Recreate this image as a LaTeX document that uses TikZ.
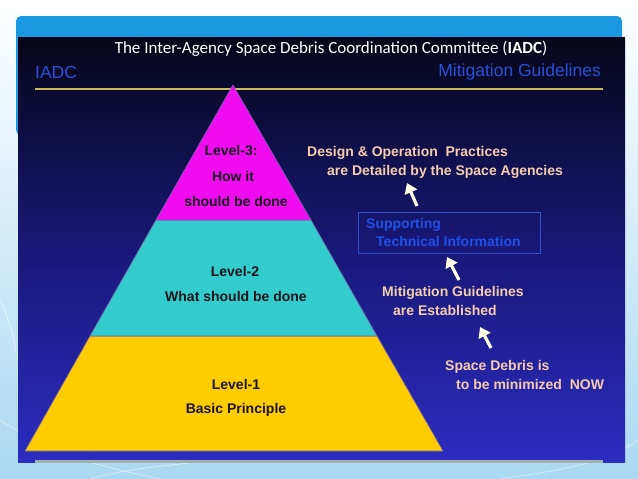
\documentclass[tikz,border=0pt]{standalone}
\usepackage{fontspec}
\setmainfont{Liberation Sans}
\newfontfamily\calfont{Carlito}
\usetikzlibrary{arrows.meta}
\definecolor{skybar}{RGB}{26,152,224}
\definecolor{pagelight}{RGB}{170,216,242}
\definecolor{darktop}{RGB}{6,6,24}
\definecolor{darkmid}{RGB}{24,24,120}
\definecolor{darkbot}{RGB}{44,44,192}
\definecolor{goldline}{RGB}{200,184,96}
\definecolor{grayline}{RGB}{160,176,176}
\definecolor{lvmag}{RGB}{240,12,240}
\definecolor{lvcyan}{RGB}{51,204,204}
\definecolor{lvyellow}{RGB}{255,204,0}
\definecolor{peach}{RGB}{245,205,172}
\definecolor{headblue}{RGB}{42,80,215}
\definecolor{infoblue}{RGB}{32,80,230}
\definecolor{boxblue}{RGB}{50,80,200}
\definecolor{cream}{RGB}{255,255,228}
\definecolor{edge}{RGB}{120,100,170}
\begin{document}
\begin{tikzpicture}[x=1pt,y=-1pt,
  ptxt/.style={font=\bfseries\fontsize{14}{16}\selectfont, text={rgb,255:red,25;green,20;blue,30}, inner sep=0pt},
  rtxt/.style={font=\bfseries\fontsize{14}{16}\selectfont, text=peach, inner sep=0pt, anchor=west},
  btxt/.style={font=\bfseries\fontsize{14}{16}\selectfont, text=infoblue, inner sep=0pt, anchor=west},
  htxt/.style={font=\fontsize{17.5}{20}\selectfont, text=headblue, inner sep=0pt},
  uparrow/.style={draw=cream, line width=3.2pt, -{Triangle[width=13pt,length=10pt]}},
  level/.style={draw=edge, line width=0.6pt, line join=round}]
\useasboundingbox (0,0) rectangle (638,479);
% page background
\shade[top color=white, bottom color=pagelight] (0,0) rectangle (638,479);
\draw[white, opacity=0.5, line width=0.8pt] (0,300) .. controls (10,320) and (14,340) .. (18,360);
\draw[white, opacity=0.5, line width=0.8pt] (0,420) .. controls (60,460) and (120,470) .. (160,479);
\draw[white, opacity=0.5, line width=0.8pt] (500,479) .. controls (560,470) and (600,465) .. (638,440);
\draw[white, opacity=0.5, line width=0.8pt] (90,479) .. controls (120,470) and (160,466) .. (200,462);
% blue title bar
\fill[skybar, rounded corners=5pt] (16,16) rectangle (622,135);
% dark slide image
\shade[top color=darktop, bottom color=darkbot, middle color=darkmid] (18,37) rectangle (625,462);
% title
\node[font=\calfont\fontsize{17}{20}\selectfont, text=white, inner sep=0pt] (title) at (331,49) {The Inter-Agency Space Debris Coordination Committee (\textbf{IADC})};
\node[htxt, anchor=west] (iadc) at (35,72) {IADC};
\node[htxt, anchor=east] (mitg) at (601,72) {Mitigation Guidelines};
\coordinate (gl1) at (35,89);
\coordinate (gl2) at (603,89);
\draw[goldline, line width=2pt] (gl1) -- (gl2);
\coordinate (gy1) at (35,461);
\coordinate (gy2) at (603,461);
\draw[grayline, line width=3pt] (gy1) -- (gy2);
% pyramid
\filldraw[level, fill=lvyellow] (90,336) -- (377,336) -- (443,451) -- (25,451) -- cycle;
\filldraw[level, fill=lvcyan] (156,220) -- (311,220) -- (377,336) -- (90,336) -- cycle;
\filldraw[level, fill=lvmag] (233,85) -- (311,220) -- (156,220) -- cycle;
\node[ptxt] (l3a) at (231,151) {Level-3:};
\node[ptxt] (l3b) at (233,176) {How it};
\node[ptxt] (l3c) at (236,201) {should be done};
\node[ptxt] (l2a) at (235,271) {Level-2};
\node[ptxt] (l2b) at (236,296) {What should be done};
\node[ptxt] (l1a) at (236,384) {Level-1};
\node[ptxt] (l1b) at (236,410) {Basic Principle};
% right side
\node[rtxt] (d1) at (307,153) {Design \& Operation\ \ Practices};
\node[rtxt] (d2) at (327,172) {are Detailed by the Space Agencies};
\node[draw=boxblue, line width=0.8pt, minimum width=182pt, minimum height=41pt, inner sep=0pt] (box) at (449,232.5) {};
\node[btxt] (s1) at (366,225) {Supporting};
\node[btxt] (s2) at (376,241) {Technical Information};
\node[rtxt] (m1) at (382,293) {Mitigation Guidelines};
\node[rtxt] (m2) at (393,310) {are Established};
\node[rtxt] (p1) at (445,367) {Space Debris is};
\node[rtxt] (p2) at (456,384) {to be minimized\ \ NOW};
% arrows
\coordinate (a1t) at (417,206); \coordinate (a1h) at (407,183);
\coordinate (a2t) at (459,280); \coordinate (a2h) at (447,257);
\coordinate (a3t) at (491,348); \coordinate (a3h) at (480,327);
\draw[uparrow] (a1t) -- (a1h);
\draw[uparrow] (a2t) -- (a2h);
\draw[uparrow] (a3t) -- (a3h);
\end{tikzpicture}
\end{document}
